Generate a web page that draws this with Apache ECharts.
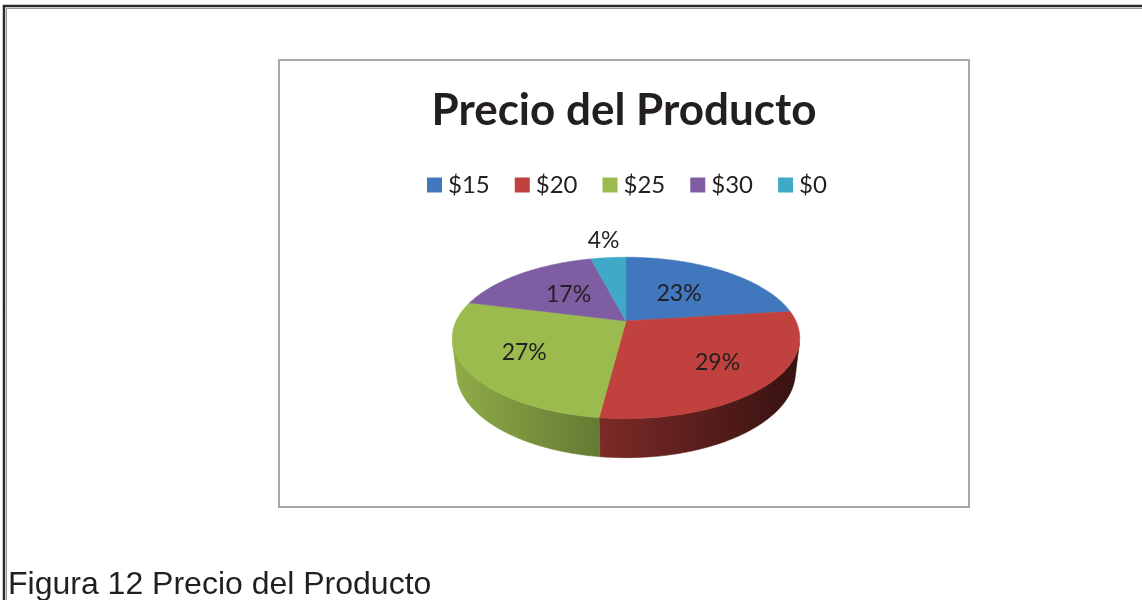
<!DOCTYPE html>
<html>
<head>
<meta charset="utf-8">
<script src="https://cdn.jsdelivr.net/npm/echarts@6/dist/echarts.min.js"></script>
<style>
  html, body { margin: 0; padding: 0; background: #ffffff; }
  #chart { width: 1142px; height: 600px; }
</style>
</head>
<body>
<div id="chart"></div>
<script>
// Price categories and their share (percent) of answers
const categories = ['$15', '$20', '$25', '$30', '$0'];
const shares = [23, 29, 27, 17, 4];
const colors = ['#4077bd', '#c0413d', '#9bbb4e', '#7e5da2', '#3faac7'];
const chartTitle = 'Precio del Producto';
const caption = 'Figura 12 Precio del Producto';

// Simple perspective camera for the tilted pie (unit radius disc)
const view = { cx: 626, cy: 321, focal: 722, dist: 4.25, tilt: 27 * Math.PI / 180, thick: 0.226 };
const sinT = Math.sin(view.tilt), cosT = Math.cos(view.tilt);

function project(x, y, z) {
  const yc = y * cosT + z * sinT;
  const depth = view.dist + z * cosT - y * sinT;
  return [view.cx + view.focal * x / depth, view.cy - view.focal * yc / depth];
}
function rim(phi, r, y) {
  return project(r * Math.sin(phi), y, r * Math.cos(phi));
}
function arcPoints(a0, a1, r, y) {
  const n = Math.max(2, Math.ceil((a1 - a0) / (Math.PI / 360)));
  const pts = [];
  for (let i = 0; i <= n; i++) pts.push(rim(a0 + (a1 - a0) * i / n, r, y));
  return pts;
}
function shade(hex, k) {
  const n = parseInt(hex.slice(1), 16);
  const r = Math.round(((n >> 16) & 255) * k);
  const g = Math.round(((n >> 8) & 255) * k);
  const b = Math.round((n & 255) * k);
  return 'rgb(' + r + ',' + g + ',' + b + ')';
}

const total = shares.reduce((a, b) => a + b, 0);
const starts = [];
shares.reduce((acc, v) => { starts.push(acc); return acc + v; }, 0);

// wall segments facing the camera
const frontMin = Math.acos(-1 / (view.dist * cosT));
const frontMax = 2 * Math.PI - frontMin;

// horizontal extent of the disc, used for the wall shading
let xLeft = Infinity, xRight = -Infinity;
for (let i = 0; i < 720; i++) {
  const p = rim(i * Math.PI / 360, 1, 0);
  xLeft = Math.min(xLeft, p[0]); xRight = Math.max(xRight, p[0]);
}

function renderSlice(idx) {
  return function (params, api) {
    const v = api.value(0);
    const a0 = starts[idx] / total * 2 * Math.PI;
    const a1 = a0 + v / total * 2 * Math.PI;
    const color = colors[idx];
    const children = [];

    // visible outer wall
    const w0 = Math.max(a0, frontMin), w1 = Math.min(a1, frontMax);
    if (w1 > w0) {
      const top = arcPoints(w0, w1, 1, 0);
      const bottom = arcPoints(w0, w1, 1, -view.thick).reverse();
      const fill = {
        type: 'linear', x: xLeft, y: 0, x2: xRight, y2: 0, global: true,
        colorStops: [
          { offset: 0, color: shade(color, 0.92) },
          { offset: 1, color: shade(color, 0.28) }
        ]
      };
      children.push({
        type: 'polygon', z2: 5,
        shape: { points: top.concat(bottom) },
        style: { fill: fill, stroke: fill, lineWidth: 0.6 }
      });
    }

    // top face
    const face = [project(0, 0, 0)].concat(arcPoints(a0, a1, 1, 0));
    children.push({
      type: 'polygon', z2: 10,
      shape: { points: face },
      style: { fill: color, stroke: color, lineWidth: 0.6 }
    });

    // percentage label: inside, pushed out a little toward the viewer;
    // small slices get it outside the rim
    const mid = (a0 + a1) / 2;
    const r = v < 5 ? 1.35 : 0.6 - 0.12 * Math.cos(mid);
    const lp = rim(mid, r, 0);
    children.push({
      type: 'text', z2: 20,
      x: lp[0], y: lp[1],
      style: {
        text: v + '%', fill: '#231f20',
        fontSize: 23, fontFamily: 'Lato',
        align: 'center', verticalAlign: 'middle'
      }
    });
    return { type: 'group', children: children };
  };
}

const series = categories.map((name, i) => ({
  type: 'custom',
  name: name,
  coordinateSystem: 'none',
  itemStyle: { color: colors[i] },
  data: [[shares[i]]],
  renderItem: renderSlice(i),
  silent: true
}));

const chart = echarts.init(document.getElementById('chart'), null, { renderer: 'canvas' });
chart.setOption({
  animation: false,
  backgroundColor: '#ffffff',
  title: [
    {
      text: chartTitle, left: 619, top: 84, textAlign: 'center',
      textStyle: { fontFamily: 'Lato', fontWeight: 'bold', fontSize: 44, color: '#231f20' }
    },
    {
      text: caption, left: 3, top: 564,
      textStyle: { fontFamily: 'Liberation Sans', fontWeight: 'normal', fontSize: 32, color: '#231f20' }
    }
  ],
  legend: {
    left: 422, top: 168,
    itemWidth: 15, itemHeight: 15, itemGap: 25,
    icon: 'rect',
    selectedMode: false,
    textStyle: { fontFamily: 'Lato', fontSize: 24, color: '#231f20', padding: [0, 0, 0, 1] },
    data: categories
  },
  graphic: [
    // page frame
    { type: 'polyline', shape: { points: [[4, 600], [4, 6], [1142, 6]] }, style: { stroke: '#2b2b2b', lineWidth: 2.5, fill: null } },
    { type: 'polyline', shape: { points: [[6.5, 600], [6.5, 8.5], [1142, 8.5]] }, style: { stroke: '#9a9a9a', lineWidth: 1, fill: null } },
    // chart box
    { type: 'rect', shape: { x: 279, y: 60, width: 690, height: 447 }, style: { stroke: '#a8a8a8', lineWidth: 2, fill: null } }
  ],
  series: series
});
</script>
</body>
</html>
